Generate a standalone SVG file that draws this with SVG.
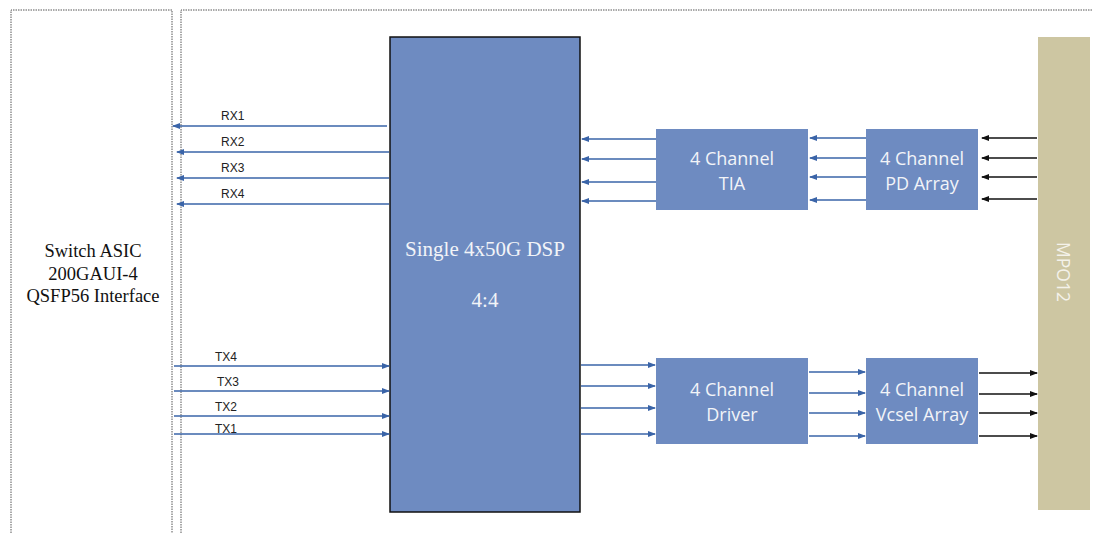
<svg xmlns="http://www.w3.org/2000/svg" width="1093" height="533" viewBox="0 0 1093 533">
<style>
.frame{fill:none;stroke:#555;stroke-width:1;stroke-dasharray:1.5 1}
.blk{fill:#6e8bc1}
.bl{stroke:#3a64a8;stroke-width:1.5;fill:none}
.k{stroke:#111;stroke-width:1.5;fill:none}
.lbl{font-family:"Liberation Sans",Arial,sans-serif;font-size:12px;fill:#222}
.wt{font-family:"Open Sans","Liberation Sans",sans-serif;font-size:18px;fill:#f2f4f8;text-anchor:middle}
.st{font-family:"Liberation Serif","Times New Roman",serif;font-size:18.5px;fill:#111;text-anchor:middle}
.dt{font-family:"Liberation Serif","Times New Roman",serif;font-size:21px;fill:#f2f4f8;text-anchor:middle}
</style>
<defs>
<marker id="ab" markerWidth="8" markerHeight="6" refX="7" refY="3" orient="auto" markerUnits="userSpaceOnUse"><path d="M0,0 L8,3 L0,6 z" fill="#3a64a8"/></marker>
<marker id="ak" markerWidth="8" markerHeight="6" refX="7" refY="3" orient="auto" markerUnits="userSpaceOnUse"><path d="M0,0 L8,3 L0,6 z" fill="#111"/></marker>
</defs>
<rect width="1093" height="533" fill="#fff"/>
<g id="frames">
<path class="frame" d="M11,533 V10 H172 V533"/>
<path class="frame" d="M181,533 V10 H1093"/>
</g>
<g id="switch"><text class="st" x="93" y="257">Switch ASIC</text><text class="st" x="93" y="280">200GAUI-4</text><text class="st" x="93" y="302">QSFP56 Interface</text></g>
<g id="dsp"><rect x="390" y="37" width="190" height="475" class="blk" stroke="#111" stroke-width="1.5"/><text class="dt" x="485" y="256">Single 4x50G DSP</text><text class="dt" x="485" y="307">4:4</text></g>
<g id="tia"><rect x="656" y="129" width="152" height="81" class="blk"/><text class="wt" x="732" y="165">4 Channel</text><text class="wt" x="732" y="190">TIA</text></g>
<g id="pd"><rect x="866" y="129" width="112" height="81" class="blk"/><text class="wt" x="922" y="165">4 Channel</text><text class="wt" x="922" y="190">PD Array</text></g>
<g id="driver"><rect x="656" y="358" width="152" height="86" class="blk"/><text class="wt" x="732" y="396">4 Channel</text><text class="wt" x="732" y="421">Driver</text></g>
<g id="vcsel"><rect x="866" y="358" width="112" height="86" class="blk"/><text class="wt" x="922" y="396">4 Channel</text><text class="wt" x="922" y="421">Vcsel Array</text></g>
<g id="mpo"><rect x="1038" y="37" width="52" height="473" fill="#cdc6a2"/><text x="1062" y="272" transform="rotate(90 1062 272)" font-family="Open Sans,Liberation Sans,sans-serif" font-size="17.5" fill="#f4f2ea" text-anchor="middle" dominant-baseline="middle">MPO12</text></g>
<g id="connectors">
<line class="bl" x1="387" y1="126" x2="173" y2="126" marker-end="url(#ab)"/>
<line class="bl" x1="389" y1="152" x2="177" y2="152" marker-end="url(#ab)"/>
<line class="bl" x1="389" y1="178" x2="177" y2="178" marker-end="url(#ab)"/>
<line class="bl" x1="389" y1="204" x2="177" y2="204" marker-end="url(#ab)"/>
<line class="bl" x1="174" y1="366" x2="389" y2="366" marker-end="url(#ab)"/>
<line class="bl" x1="174" y1="391" x2="389" y2="391" marker-end="url(#ab)"/>
<line class="bl" x1="174" y1="416" x2="389" y2="416" marker-end="url(#ab)"/>
<line class="bl" x1="174" y1="434" x2="389" y2="434" marker-end="url(#ab)"/>
<line class="bl" x1="656" y1="139" x2="582" y2="139" marker-end="url(#ab)"/>
<line class="bl" x1="656" y1="159" x2="582" y2="159" marker-end="url(#ab)"/>
<line class="bl" x1="656" y1="182" x2="582" y2="182" marker-end="url(#ab)"/>
<line class="bl" x1="656" y1="201" x2="582" y2="201" marker-end="url(#ab)"/>
<line class="bl" x1="866" y1="138" x2="810" y2="138" marker-end="url(#ab)"/>
<line class="bl" x1="866" y1="158" x2="810" y2="158" marker-end="url(#ab)"/>
<line class="bl" x1="866" y1="177" x2="810" y2="177" marker-end="url(#ab)"/>
<line class="bl" x1="866" y1="200" x2="810" y2="200" marker-end="url(#ab)"/>
<line class="k" x1="1037" y1="138" x2="982" y2="138" marker-end="url(#ak)"/>
<line class="k" x1="1037" y1="158" x2="982" y2="158" marker-end="url(#ak)"/>
<line class="k" x1="1037" y1="177" x2="982" y2="177" marker-end="url(#ak)"/>
<line class="k" x1="1037" y1="199" x2="982" y2="199" marker-end="url(#ak)"/>
<line class="bl" x1="581" y1="365" x2="655" y2="365" marker-end="url(#ab)"/>
<line class="bl" x1="581" y1="386" x2="655" y2="386" marker-end="url(#ab)"/>
<line class="bl" x1="581" y1="408" x2="655" y2="408" marker-end="url(#ab)"/>
<line class="bl" x1="581" y1="434" x2="655" y2="434" marker-end="url(#ab)"/>
<line class="bl" x1="809" y1="372" x2="865" y2="372" marker-end="url(#ab)"/>
<line class="bl" x1="809" y1="393" x2="865" y2="393" marker-end="url(#ab)"/>
<line class="bl" x1="809" y1="413" x2="865" y2="413" marker-end="url(#ab)"/>
<line class="bl" x1="809" y1="436" x2="865" y2="436" marker-end="url(#ab)"/>
<line class="k" x1="979" y1="373" x2="1037" y2="373" marker-end="url(#ak)"/>
<line class="k" x1="979" y1="394" x2="1037" y2="394" marker-end="url(#ak)"/>
<line class="k" x1="979" y1="413" x2="1037" y2="413" marker-end="url(#ak)"/>
<line class="k" x1="979" y1="436" x2="1037" y2="436" marker-end="url(#ak)"/>
</g>
<g id="labels">
<text class="lbl" x="221" y="120">RX1</text>
<text class="lbl" x="221" y="146">RX2</text>
<text class="lbl" x="221" y="172">RX3</text>
<text class="lbl" x="221" y="198">RX4</text>
<text class="lbl" x="215" y="361">TX4</text>
<text class="lbl" x="217" y="386">TX3</text>
<text class="lbl" x="215" y="411">TX2</text>
<text class="lbl" x="215" y="433">TX1</text>
</g>
</svg>
